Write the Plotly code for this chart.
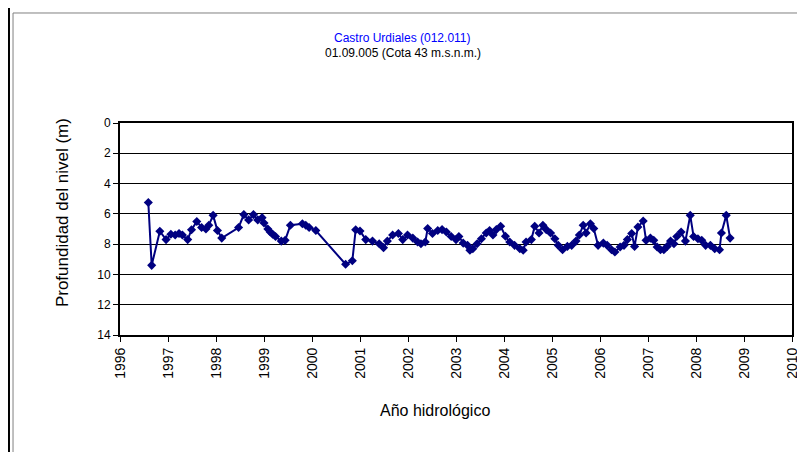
import plotly.graph_objects as go

# fecha (año decimal) y profundidad del nivel (m)
fechas = [1996.59, 1996.66, 1996.83, 1996.96, 1997.06, 1997.15, 1997.23, 1997.30, 1997.41, 1997.49,
          1997.60, 1997.70, 1997.79, 1997.85, 1997.94, 1998.03, 1998.12, 1998.47, 1998.58, 1998.68,
          1998.78, 1998.87, 1998.96, 1999.00, 1999.08, 1999.13, 1999.18, 1999.24, 1999.36, 1999.44,
          1999.55, 1999.80, 1999.87, 1999.94, 2000.08, 2000.70, 2000.84, 2000.91, 2001.00, 2001.12,
          2001.26, 2001.40, 2001.49, 2001.57, 2001.68, 2001.80, 2001.89, 2001.99, 2002.10, 2002.20,
          2002.27, 2002.36, 2002.41, 2002.51, 2002.62, 2002.71, 2002.80, 2002.90, 2003.00, 2003.06,
          2003.15, 2003.24, 2003.29, 2003.35, 2003.44, 2003.53, 2003.63, 2003.70, 2003.77, 2003.84,
          2003.93, 2004.03, 2004.12, 2004.22, 2004.33, 2004.40, 2004.46, 2004.57, 2004.64, 2004.73,
          2004.81, 2004.88, 2004.97, 2005.06, 2005.13, 2005.22, 2005.32, 2005.41, 2005.50, 2005.57,
          2005.65, 2005.71, 2005.80, 2005.87, 2005.96, 2006.07, 2006.15, 2006.24, 2006.31, 2006.42,
          2006.50, 2006.57, 2006.66, 2006.72, 2006.79, 2006.90, 2006.96, 2007.05, 2007.12, 2007.19,
          2007.26, 2007.33, 2007.40, 2007.47, 2007.54, 2007.60, 2007.69, 2007.78, 2007.88, 2007.95,
          2008.04, 2008.12, 2008.20, 2008.30, 2008.39, 2008.49, 2008.53, 2008.63, 2008.71]

profundidad = [5.25, 9.4, 7.15, 7.7, 7.35, 7.4, 7.3, 7.4, 7.7, 7.05,
               6.5, 6.9, 7.0, 6.75, 6.1, 7.1, 7.6, 6.9, 6.05, 6.4,
               6.05, 6.4, 6.25, 6.6, 7.0, 7.2, 7.35, 7.5, 7.8, 7.75,
               6.75, 6.65, 6.75, 6.9, 7.1, 9.33, 9.1, 7.05, 7.13, 7.7,
               7.8, 7.97, 8.23, 7.8, 7.4, 7.3, 7.7, 7.4, 7.6, 7.86,
               7.97, 7.86, 6.97, 7.3, 7.1, 7.04, 7.2, 7.5, 7.7, 7.5,
               7.93, 8.08, 8.4, 8.3, 7.97, 7.64, 7.26, 7.1, 7.4, 7.04,
               6.82, 7.48, 7.86, 8.08, 8.3, 8.4, 7.86, 7.7, 6.82, 7.26,
               6.75, 7.04, 7.26, 7.64, 8.08, 8.37, 8.15, 8.08, 7.8, 7.4,
               6.75, 7.26, 6.65, 6.97, 8.08, 7.93, 8.08, 8.37, 8.52, 8.19,
               8.08, 7.7, 7.3, 8.15, 6.87, 6.47, 7.75, 7.6, 7.75, 8.19,
               8.37, 8.37, 8.15, 7.8, 7.97, 7.5, 7.2, 7.8, 6.1, 7.5,
               7.64, 7.75, 8.08, 8.08, 8.3, 8.37, 7.26, 6.1, 7.6]

fuente = "Arial, Liberation Sans, sans-serif"

fig = go.Figure()
fig.add_trace(go.Scatter(
    x=fechas, y=profundidad, mode="lines+markers",
    line=dict(color="#000080", width=2),
    marker=dict(symbol="diamond", size=7, color="#000080"),
    showlegend=False,
))

fig.update_layout(
    width=805, height=452,
    margin=dict(l=112, r=21, t=115, b=125),
    paper_bgcolor="white", plot_bgcolor="white",
    font=dict(family=fuente, color="black"),
    shapes=[
        dict(type="line", xref="paper", yref="paper", x0=-0.1652, x1=-0.1652, y0=-0.7, y1=1.7,
             line=dict(color="black", width=2)),
        dict(type="rect", xref="paper", yref="paper", x0=-0.1592, x1=1.1, y0=-0.7, y1=1.5189,
             line=dict(color="#808080", width=1)),
    ],
    annotations=[
        dict(text="Castro Urdiales (012.011)", xref="paper", yref="paper", x=0.421, y=1.401,
             xanchor="center", yanchor="middle",
             showarrow=False, font=dict(size=12, color="#0000ff")),
        dict(text="01.09.005 (Cota 43 m.s.n.m.)", xref="paper", yref="paper", x=0.421, y=1.330,
             xanchor="center", yanchor="middle",
             showarrow=False, font=dict(size=12, color="black")),
        dict(text="Profundidad del nivel (m)", xref="paper", yref="paper", x=-0.0863, y=0.575,
             xanchor="center", yanchor="middle",
             showarrow=False, textangle=-90, font=dict(size=17, color="black")),
        dict(text="Año hidrológico", xref="paper", yref="paper", x=0.469, y=-0.354,
             xanchor="center", yanchor="middle",
             showarrow=False, font=dict(size=16, color="black")),
    ],
)

fig.update_xaxes(
    range=[1996, 2010], dtick=1, tick0=1996, tickangle=-90,
    showgrid=False, zeroline=False,
    showline=True, linecolor="black", linewidth=2, mirror=True,
    ticks="outside", ticklen=5, tickcolor="black",
    tickfont=dict(size=14),
)
fig.update_yaxes(
    range=[14, 0], dtick=2, tick0=0,
    showgrid=True, gridcolor="black", gridwidth=1, zeroline=False,
    showline=True, linecolor="black", linewidth=2, mirror=True,
    ticks="outside", ticklen=5, tickcolor="black",
    tickfont=dict(size=12),
)

fig.write_html("out.html")
